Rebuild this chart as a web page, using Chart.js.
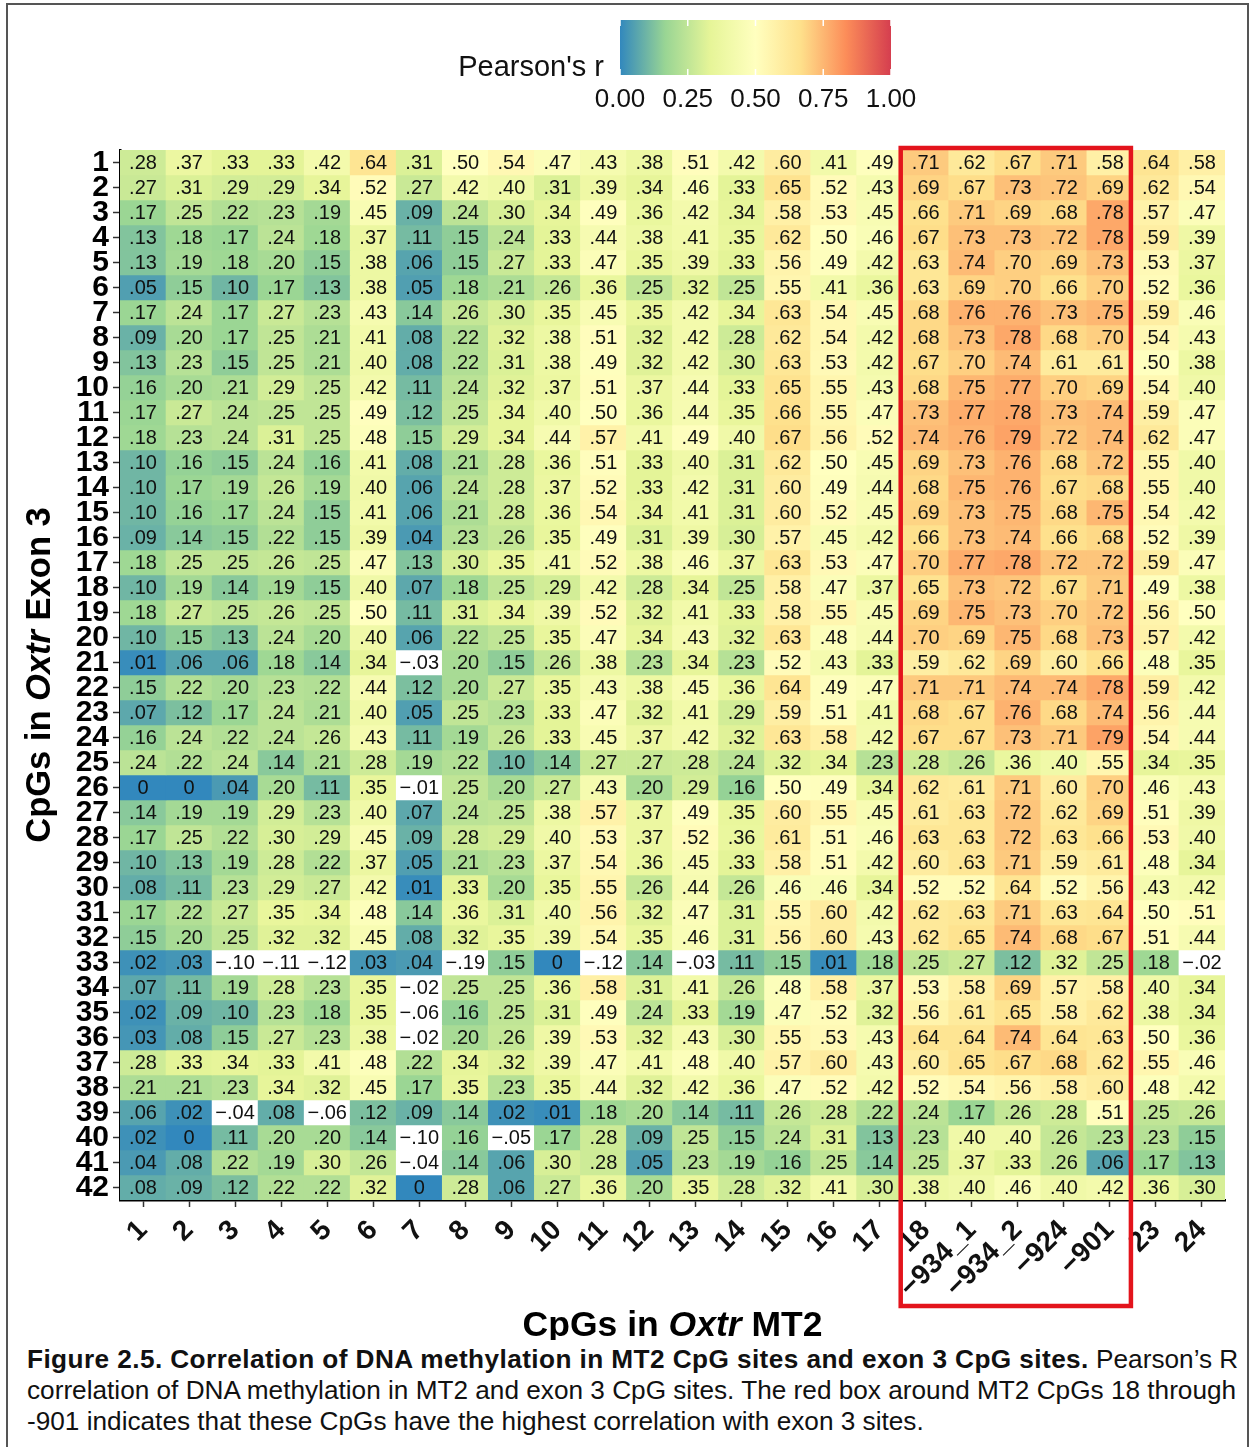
<!DOCTYPE html>
<html>
<head>
<meta charset="utf-8">
<title>Correlation of DNA methylation in MT2 and exon 3 CpG sites</title>
<script src="https://cdn.jsdelivr.net/npm/chart.js@4.4.1/dist/chart.umd.min.js"></script>
<style>
  html, body { margin: 0; padding: 0; background: #fff; }
  body { width: 1252px; height: 1447px; position: relative; overflow: hidden; font-family: 'Liberation Sans', Arial, sans-serif; }
  #frame { position: absolute; left: 6px; top: 3px; width: 1243px; height: 1470px; border: 2px solid #555; box-sizing: border-box; }
  #wrap { position: absolute; left: 0; top: 0; width: 1252px; height: 1340px; }
  #caption { position: absolute; left: 27px; top: 1344px; font-size: 26.2px; line-height: 31px; color: #111; white-space: nowrap; }
  #caption b { letter-spacing: 0.42px; }
</style>
</head>
<body>
<div id="frame"></div>
<div id="wrap"><canvas id="heatmap" width="1252" height="1340"></canvas></div>
<div id="caption"><b>Figure 2.5. Correlation of DNA methylation in MT2 CpG sites and exon 3 CpG sites.</b> Pearson’s R<br>correlation of DNA methylation in MT2 and exon 3 CpG sites. The red box around MT2 CpGs 18 through<br>-901 indicates that these CpGs have the highest correlation with exon 3 sites.</div>
<script>
// MT2 CpG sites (columns) and exon 3 CpG sites (rows)
var mt2Labels = ['1', '2', '3', '4', '5', '6', '7', '8', '9', '10', '11', '12', '13', '14', '15', '16', '17',
                 '18', '\u2212934_1', '\u2212934_2', '\u2212924', '\u2212901', '23', '24'];
var exon3Labels = ['1', '2', '3', '4', '5', '6', '7', '8', '9', '10', '11', '12', '13', '14',
                   '15', '16', '17', '18', '19', '20', '21', '22', '23', '24', '25', '26', '27', '28',
                   '29', '30', '31', '32', '33', '34', '35', '36', '37', '38', '39', '40', '41', '42'];
var boxedFrom = '18', boxedTo = '\u2212901';
var legendTicks = [0, 0.25, 0.5, 0.75, 1];

// Pearson's r, one row per exon 3 CpG
var pearsonR = [
    [.28, .37, .33, .33, .42, .64, .31, .50, .54, .47, .43, .38, .51, .42, .60, .41, .49, .71, .62, .67, .71, .58, .64, .58],
    [.27, .31, .29, .29, .34, .52, .27, .42, .40, .31, .39, .34, .46, .33, .65, .52, .43, .69, .67, .73, .72, .69, .62, .54],
    [.17, .25, .22, .23, .19, .45, .09, .24, .30, .34, .49, .36, .42, .34, .58, .53, .45, .66, .71, .69, .68, .78, .57, .47],
    [.13, .18, .17, .24, .18, .37, .11, .15, .24, .33, .44, .38, .41, .35, .62, .50, .46, .67, .73, .73, .72, .78, .59, .39],
    [.13, .19, .18, .20, .15, .38, .06, .15, .27, .33, .47, .35, .39, .33, .56, .49, .42, .63, .74, .70, .69, .73, .53, .37],
    [.05, .15, .10, .17, .13, .38, .05, .18, .21, .26, .36, .25, .32, .25, .55, .41, .36, .63, .69, .70, .66, .70, .52, .36],
    [.17, .24, .17, .27, .23, .43, .14, .26, .30, .35, .45, .35, .42, .34, .63, .54, .45, .68, .76, .76, .73, .75, .59, .46],
    [.09, .20, .17, .25, .21, .41, .08, .22, .32, .38, .51, .32, .42, .28, .62, .54, .42, .68, .73, .78, .68, .70, .54, .43],
    [.13, .23, .15, .25, .21, .40, .08, .22, .31, .38, .49, .32, .42, .30, .63, .53, .42, .67, .70, .74, .61, .61, .50, .38],
    [.16, .20, .21, .29, .25, .42, .11, .24, .32, .37, .51, .37, .44, .33, .65, .55, .43, .68, .75, .77, .70, .69, .54, .40],
    [.17, .27, .24, .25, .25, .49, .12, .25, .34, .40, .50, .36, .44, .35, .66, .55, .47, .73, .77, .78, .73, .74, .59, .47],
    [.18, .23, .24, .31, .25, .48, .15, .29, .34, .44, .57, .41, .49, .40, .67, .56, .52, .74, .76, .79, .72, .74, .62, .47],
    [.10, .16, .15, .24, .16, .41, .08, .21, .28, .36, .51, .33, .40, .31, .62, .50, .45, .69, .73, .76, .68, .72, .55, .40],
    [.10, .17, .19, .26, .19, .40, .06, .24, .28, .37, .52, .33, .42, .31, .60, .49, .44, .68, .75, .76, .67, .68, .55, .40],
    [.10, .16, .17, .24, .15, .41, .06, .21, .28, .36, .54, .34, .41, .31, .60, .52, .45, .69, .73, .75, .68, .75, .54, .42],
    [.09, .14, .15, .22, .15, .39, .04, .23, .26, .35, .49, .31, .39, .30, .57, .45, .42, .66, .73, .74, .66, .68, .52, .39],
    [.18, .25, .25, .26, .25, .47, .13, .30, .35, .41, .52, .38, .46, .37, .63, .53, .47, .70, .77, .78, .72, .72, .59, .47],
    [.10, .19, .14, .19, .15, .40, .07, .18, .25, .29, .42, .28, .34, .25, .58, .47, .37, .65, .73, .72, .67, .71, .49, .38],
    [.18, .27, .25, .26, .25, .50, .11, .31, .34, .39, .52, .32, .41, .33, .58, .55, .45, .69, .75, .73, .70, .72, .56, .50],
    [.10, .15, .13, .24, .20, .40, .06, .22, .25, .35, .47, .34, .43, .32, .63, .48, .44, .70, .69, .75, .68, .73, .57, .42],
    [.01, .06, .06, .18, .14, .34, -.03, .20, .15, .26, .38, .23, .34, .23, .52, .43, .33, .59, .62, .69, .60, .66, .48, .35],
    [.15, .22, .20, .23, .22, .44, .12, .20, .27, .35, .43, .38, .45, .36, .64, .49, .47, .71, .71, .74, .74, .78, .59, .42],
    [.07, .12, .17, .24, .21, .40, .05, .25, .23, .33, .47, .32, .41, .29, .59, .51, .41, .68, .67, .76, .68, .74, .56, .44],
    [.16, .24, .22, .24, .26, .43, .11, .19, .26, .33, .45, .37, .42, .32, .63, .58, .42, .67, .67, .73, .71, .79, .54, .44],
    [.24, .22, .24, .14, .21, .28, .19, .22, .10, .14, .27, .27, .28, .24, .32, .34, .23, .28, .26, .36, .40, .55, .34, .35],
    [0, 0, .04, .20, .11, .35, -.01, .25, .20, .27, .43, .20, .29, .16, .50, .49, .34, .62, .61, .71, .60, .70, .46, .43],
    [.14, .19, .19, .29, .23, .40, .07, .24, .25, .38, .57, .37, .49, .35, .60, .55, .45, .61, .63, .72, .62, .69, .51, .39],
    [.17, .25, .22, .30, .29, .45, .09, .28, .29, .40, .53, .37, .52, .36, .61, .51, .46, .63, .63, .72, .63, .66, .53, .40],
    [.10, .13, .19, .28, .22, .37, .05, .21, .23, .37, .54, .36, .45, .33, .58, .51, .42, .60, .63, .71, .59, .61, .48, .34],
    [.08, .11, .23, .29, .27, .42, .01, .33, .20, .35, .55, .26, .44, .26, .46, .46, .34, .52, .52, .64, .52, .56, .43, .42],
    [.17, .22, .27, .35, .34, .48, .14, .36, .31, .40, .56, .32, .47, .31, .55, .60, .42, .62, .63, .71, .63, .64, .50, .51],
    [.15, .20, .25, .32, .32, .45, .08, .32, .35, .39, .54, .35, .46, .31, .56, .60, .43, .62, .65, .74, .68, .67, .51, .44],
    [.02, .03, -.10, -.11, -.12, .03, .04, -.19, .15, 0, -.12, .14, -.03, .11, .15, .01, .18, .25, .27, .12, .32, .25, .18, -.02],
    [.07, .11, .19, .28, .23, .35, -.02, .25, .25, .36, .58, .31, .41, .26, .48, .58, .37, .53, .58, .69, .57, .58, .40, .34],
    [.02, .09, .10, .23, .18, .35, -.06, .16, .25, .31, .49, .24, .33, .19, .47, .52, .32, .56, .61, .65, .58, .62, .38, .34],
    [.03, .08, .15, .27, .23, .38, -.02, .20, .26, .39, .53, .32, .43, .30, .55, .53, .43, .64, .64, .74, .64, .63, .50, .36],
    [.28, .33, .34, .33, .41, .48, .22, .34, .32, .39, .47, .41, .48, .40, .57, .60, .43, .60, .65, .67, .68, .62, .55, .46],
    [.21, .21, .23, .34, .32, .45, .17, .35, .23, .35, .44, .32, .42, .36, .47, .52, .42, .52, .54, .56, .58, .60, .48, .42],
    [.06, .02, -.04, .08, -.06, .12, .09, .14, .02, .01, .18, .20, .14, .11, .26, .28, .22, .24, .17, .26, .28, .51, .25, .26],
    [.02, 0, .11, .20, .20, .14, -.10, .16, -.05, .17, .28, .09, .25, .15, .24, .31, .13, .23, .40, .40, .26, .23, .23, .15],
    [.04, .08, .22, .19, .30, .26, -.04, .14, .06, .30, .28, .05, .23, .19, .16, .25, .14, .25, .37, .33, .26, .06, .17, .13],
    [.08, .09, .12, .22, .22, .32, 0, .28, .06, .27, .36, .20, .35, .28, .32, .41, .30, .38, .40, .46, .40, .42, .36, .30]
];

// reversed Spectral, 0 -> 1
var spectral = ['#3288bd', '#99d594', '#e6f598', '#ffffbf', '#fee08b', '#fc8d59', '#d53e4f'];

function hexRgb(h) {
    return [parseInt(h.substr(1, 2), 16), parseInt(h.substr(3, 2), 16), parseInt(h.substr(5, 2), 16)];
}

function fillFor(v) {
    if (v < 0) return '#ffffff';
    var t = Math.min(v, 1) * (spectral.length - 1);
    var i = Math.min(Math.floor(t), spectral.length - 2);
    var f = t - i;
    var a = hexRgb(spectral[i]), b = hexRgb(spectral[i + 1]);
    return 'rgb(' + [0, 1, 2].map(function (k) { return Math.round(a[k] + (b[k] - a[k]) * f); }).join(',') + ')';
}

function fmt(v) {
    if (v === 0) return '0';
    var s = Math.abs(v).toFixed(2).replace(/^0/, '');
    return v < 0 ? '\u2212' + s : s;
}

var FONT = "'Liberation Sans', Arial, Helvetica, sans-serif";

var cellLabels = {
    id: 'cellLabels',
    afterDatasetsDraw: function (chart) {
        var ctx = chart.ctx;
        ctx.save();
        ctx.font = '20px ' + FONT;
        ctx.fillStyle = '#111';
        ctx.textAlign = 'center';
        ctx.textBaseline = 'middle';
        chart.data.datasets.forEach(function (ds, di) {
            chart.getDatasetMeta(di).data.forEach(function (bar, ci) {
                var p = bar.getProps(['x', 'y', 'base'], true);
                ctx.fillText(fmt(ds.values[ci]), p.x, (p.y + p.base) / 2 + 1);
            });
        });
        ctx.restore();
    }
};

var decorations = {
    id: 'decorations',
    afterDraw: function (chart) {
        var ctx = chart.ctx, area = chart.chartArea, x = chart.scales.x;
        var half = (x.getPixelForValue(1) - x.getPixelForValue(0)) / 2;

        // red box around the boxed MT2 sites
        var bx0 = x.getPixelForValue(mt2Labels.indexOf(boxedFrom)) - half - 2;
        var bx1 = x.getPixelForValue(mt2Labels.indexOf(boxedTo)) + half - 2;
        ctx.save();
        ctx.strokeStyle = '#e3141c';
        ctx.lineWidth = 4.5;
        ctx.strokeRect(bx0, area.top - 2, bx1 - bx0, area.bottom - area.top + 108);
        ctx.restore();

        // axis titles with italic gene name
        function mixed(parts, cx, cy, size) {
            var w = 0;
            parts.forEach(function (p) {
                ctx.font = (p[1] ? 'italic ' : '') + 'bold ' + size + 'px ' + FONT;
                w += ctx.measureText(p[0]).width;
            });
            var px = cx - w / 2;
            parts.forEach(function (p) {
                ctx.font = (p[1] ? 'italic ' : '') + 'bold ' + size + 'px ' + FONT;
                ctx.fillText(p[0], px, cy);
                px += ctx.measureText(p[0]).width;
            });
        }
        ctx.save();
        ctx.fillStyle = '#000';
        ctx.textAlign = 'left';
        ctx.textBaseline = 'middle';
        mixed([['CpGs in ', false], ['Oxtr', true], [' MT2', false]], (area.left + area.right) / 2, 1326, 35.5);
        ctx.translate(40, (area.top + area.bottom) / 2);
        ctx.rotate(-Math.PI / 2);
        mixed([['CpGs in ', false], ['Oxtr', true], [' Exon 3', false]], 0, 0, 34.5);
        ctx.restore();

        // colour bar legend
        var lx0 = 620, lx1 = 891, ly0 = 20, ly1 = 75;
        ctx.save();
        var g = ctx.createLinearGradient(lx0, 0, lx1, 0);
        spectral.forEach(function (c, i) { g.addColorStop(i / (spectral.length - 1), c); });
        ctx.fillStyle = g;
        ctx.fillRect(lx0, ly0, lx1 - lx0, ly1 - ly0);
        ctx.strokeStyle = '#fff';
        ctx.lineWidth = 1.5;
        ctx.font = '26px ' + FONT;
        ctx.fillStyle = '#111';
        ctx.textAlign = 'center';
        ctx.textBaseline = 'middle';
        legendTicks.forEach(function (t) {
            var px = lx0 + (lx1 - lx0) * t;
            ctx.beginPath();
            ctx.moveTo(px, ly0); ctx.lineTo(px, ly0 + 6);
            ctx.moveTo(px, ly1); ctx.lineTo(px, ly1 - 6);
            ctx.stroke();
            ctx.fillText(t.toFixed(2), px, 100);
        });
        ctx.font = '29px ' + FONT;
        ctx.textAlign = 'right';
        ctx.fillText("Pearson's r", 604, 68);
        ctx.restore();
    }
};

var datasets = pearsonR.map(function (row, i) {
    return {
        label: exon3Labels[i],
        data: row.map(function () { return [i + 0.5, i + 1.5]; }),
        values: row,
        backgroundColor: row.map(fillFor),
        borderWidth: 0,
        barPercentage: 1,
        categoryPercentage: 1,
        grouped: false
    };
});

new Chart(document.getElementById('heatmap'), {
    type: 'bar',
    data: { labels: mt2Labels, datasets: datasets },
    options: {
        responsive: false,
        animation: false,
        layout: { padding: { left: 0, top: 150, right: 27, bottom: 0 } },
        plugins: {
            legend:  { display: false },
            tooltip: { enabled: false }
        },
        scales: {
            x: {
                type: 'category',
                offset: true,
                ticks: {
                    autoSkip: false, minRotation: 45, maxRotation: 45,
                    color: '#111', padding: 7,
                    font: { family: FONT, size: 28, weight: 'bold' }
                },
                grid:   { drawOnChartArea: false, offset: false, tickLength: 7, tickColor: '#333', tickWidth: 1.5 },
                border: { color: '#000', width: 2.5 },
                afterFit: function (s) { s.height = 140; }
            },
            y: {
                type: 'linear',
                reverse: true,
                min: 0.5,
                max: 42.5,
                afterBuildTicks: function (s) {
                    s.ticks = exon3Labels.map(function (l, i) { return { value: i + 1 }; });
                },
                ticks: {
                    autoSkip: false, color: '#000', padding: 4,
                    font: { family: FONT, size: 30, weight: 'bold' },
                    callback: function (v) { return exon3Labels[Math.round(v) - 1]; }
                },
                grid:   { drawOnChartArea: false, tickLength: 7, tickColor: '#333', tickWidth: 1.5 },
                border: { color: '#000', width: 2.5 },
                afterFit: function (s) { s.width = 120; }
            }
        }
    },
    plugins: [cellLabels, decorations]
});
</script>
</body>
</html>
